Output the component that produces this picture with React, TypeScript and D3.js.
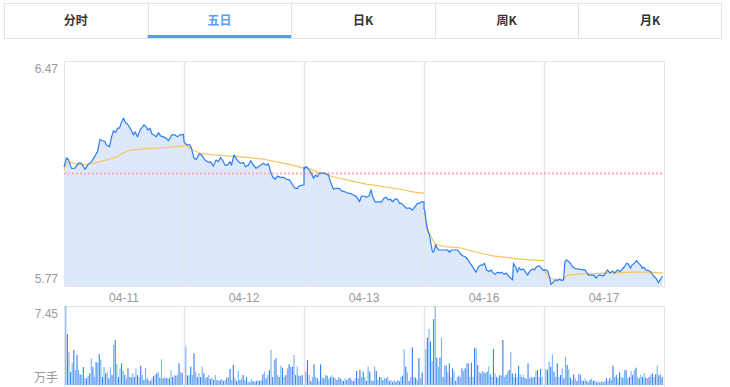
import React from 'react';
import * as d3 from 'd3';

const TABS = ['分时', '五日', '日K', '周K', '月K'];
const ACTIVE_TAB = 1;
const DAYS = ['04-11', '04-12', '04-13', '04-16', '04-17'];
const PRICE_TICKS = [6.47, 5.77];
const PRE_CLOSE = 6.12;
const VOL_MAX = 7.45;
const VOL_UNIT = '万手';
const MINUTES_PER_DAY = 240;

// [minute of day, price]
const price0: [number, number][] = [[0,6.140],[2,6.152],[5,6.169],[9,6.162],[15,6.136],[22,6.137],[29,6.152],[35,6.152],[42,6.133],[49,6.150],[55,6.157],[62,6.175],[67,6.188],[72,6.226],[77,6.222],[82,6.219],[85,6.209],[91,6.203],[95,6.233],[99,6.253],[103,6.247],[107,6.261],[111,6.261],[114,6.276],[119,6.292],[123,6.278],[127,6.274],[132,6.261],[135,6.253],[139,6.240],[142,6.250],[147,6.234],[152,6.255],[155,6.261],[160,6.271],[164,6.266],[168,6.255],[172,6.261],[176,6.243],[180,6.240],[184,6.234],[189,6.247],[193,6.237],[199,6.234],[204,6.230],[209,6.222],[212,6.230],[215,6.240],[222,6.240],[227,6.234],[231,6.240],[235,6.240],[239,6.242]];
const price1: [number, number][] = [[0,6.219],[2,6.214],[7,6.209],[12,6.209],[15,6.198],[20,6.167],[25,6.164],[30,6.181],[35,6.178],[42,6.162],[49,6.154],[53,6.157],[59,6.143],[64,6.162],[69,6.157],[73,6.170],[77,6.162],[82,6.146],[87,6.146],[92,6.157],[95,6.146],[100,6.178],[104,6.167],[109,6.157],[113,6.152],[119,6.154],[123,6.141],[129,6.146],[133,6.160],[139,6.146],[144,6.136],[149,6.141],[153,6.146],[159,6.152],[164,6.146],[169,6.150],[173,6.126],[177,6.110],[182,6.102],[187,6.112],[192,6.108],[199,6.108],[205,6.102],[211,6.100],[215,6.090],[222,6.074],[227,6.074],[231,6.082],[237,6.084],[240,6.085]];
const price2: [number, number][] = [[0,6.140],[2,6.136],[5,6.141],[9,6.133],[13,6.126],[19,6.105],[23,6.115],[27,6.110],[31,6.121],[35,6.121],[42,6.121],[49,6.115],[53,6.094],[59,6.071],[64,6.074],[71,6.074],[75,6.066],[82,6.063],[89,6.058],[93,6.058],[99,6.053],[105,6.048],[111,6.032],[115,6.050],[120,6.050],[125,6.046],[130,6.050],[134,6.069],[137,6.050],[142,6.032],[149,6.032],[155,6.032],[160,6.043],[164,6.046],[169,6.038],[173,6.040],[177,6.032],[182,6.040],[187,6.040],[191,6.027],[195,6.027],[204,6.012],[212,6.012],[217,6.006],[222,6.017],[227,6.027],[231,6.027],[235,6.032],[240,6.032]];
const price3: [number, number][] = [[0,6.010],[2,6.001],[4,5.970],[7,5.944],[11,5.929],[13,5.908],[17,5.875],[20,5.877],[23,5.898],[27,5.887],[29,5.882],[35,5.882],[42,5.882],[47,5.882],[51,5.875],[55,5.882],[62,5.882],[67,5.882],[72,5.872],[77,5.864],[82,5.861],[87,5.854],[92,5.841],[97,5.830],[101,5.820],[104,5.813],[109,5.830],[113,5.835],[117,5.835],[121,5.841],[125,5.820],[130,5.815],[134,5.820],[137,5.813],[142,5.806],[147,5.813],[151,5.810],[155,5.813],[160,5.806],[165,5.810],[170,5.799],[174,5.794],[177,5.789],[179,5.841],[183,5.830],[187,5.813],[190,5.827],[194,5.820],[199,5.823],[203,5.813],[207,5.804],[212,5.817],[217,5.823],[221,5.820],[225,5.830],[230,5.833],[234,5.827],[237,5.820],[240,5.818]];
const price4: [number, number][] = [[0,5.820],[2,5.820],[7,5.818],[11,5.799],[14,5.775],[19,5.783],[23,5.789],[27,5.787],[31,5.791],[35,5.787],[39,5.789],[42,5.846],[45,5.851],[49,5.846],[53,5.841],[57,5.830],[62,5.825],[67,5.823],[72,5.822],[77,5.820],[82,5.820],[89,5.804],[95,5.804],[101,5.803],[104,5.794],[109,5.804],[113,5.804],[119,5.801],[123,5.811],[127,5.820],[132,5.810],[137,5.817],[141,5.810],[147,5.820],[152,5.815],[156,5.822],[161,5.830],[165,5.841],[169,5.838],[173,5.825],[176,5.835],[181,5.841],[185,5.849],[189,5.841],[193,5.835],[197,5.825],[200,5.828],[204,5.820],[209,5.818],[213,5.815],[219,5.801],[224,5.794],[229,5.780],[233,5.791],[237,5.801]];

const avg0: [number, number][] = [[0,6.130],[5,6.153],[10,6.156],[32,6.146],[58,6.151],[92,6.165],[108,6.174],[118,6.184],[132,6.193],[152,6.195],[166,6.197],[192,6.200],[206,6.201],[240,6.206]];
const avg1: [number, number][] = [[0,6.206],[2,6.209],[12,6.198],[32,6.183],[58,6.178],[92,6.174],[125,6.170],[158,6.165],[192,6.154],[218,6.146],[240,6.136]];
const avg2: [number, number][] = [[0,6.137],[2,6.141],[25,6.126],[58,6.110],[92,6.098],[125,6.087],[158,6.079],[192,6.071],[218,6.063],[240,6.058]];
const avg3: [number, number][] = [[0,6.000],[2,5.991],[9,5.939],[22,5.900],[45,5.892],[72,5.889],[105,5.875],[138,5.864],[178,5.856],[212,5.851],[240,5.849]];
const avg4: [number, number][] = [[0,5.820],[2,5.815],[8,5.799],[18,5.791],[38,5.791],[48,5.804],[72,5.807],[125,5.810],[178,5.813],[212,5.813],[238,5.810]];

// volume, 万手
const vol0 = [7.45,4.78,3.08,1.23,2.07,3.30,1.41,2.83,1.41,1.01,0.94,1.70,0.66,0.63,0.85,1.10,2.52,1.70,0.75,2.17,2.07,2.92,2.36,0.75,1.70,1.10,1.23,0.63,1.70,0.94,3.77,4.24,1.98,0.75,1.57,2.05,1.32,0.94,0.63,1.57,0.75,0.75,1.10,0.75,1.57,0.94,0.75,1.82,0.94,0.47,1.63,0.63,0.47,0.38,0.63,0.85,0.94,1.10,1.23,0.69,2.42,0.63,0.75,0.63,0.69,0.63,1.41,0.75,0.94,0.88,0.94,2.05,1.20,1.16];
const vol1 = [3.61,0.88,0.94,1.73,0.94,2.99,1.26,0.75,1.10,0.75,1.73,1.10,0.63,0.75,0.94,0.57,0.69,0.47,0.94,0.47,0.38,0.47,0.57,0.38,0.47,0.69,0.75,1.51,0.47,1.89,0.63,0.38,1.32,0.47,0.63,0.94,0.47,0.75,0.31,0.25,0.57,0.38,0.31,0.38,0.47,0.38,0.47,1.01,1.26,0.63,0.94,1.41,3.30,0.75,2.36,2.52,0.94,0.75,1.82,1.63,0.75,0.94,1.57,1.95,1.73,1.73,2.83,0.94,1.73,0.88,0.85,0.94];
const vol2 = [1.26,2.36,0.94,0.38,0.75,1.95,0.75,0.63,0.38,1.95,0.75,0.63,0.94,0.88,0.57,0.75,0.94,0.69,0.63,0.47,0.75,0.63,0.47,0.38,0.63,0.47,0.63,0.69,0.47,0.38,0.63,1.32,0.63,1.41,0.75,1.26,0.75,0.38,1.73,1.26,0.47,0.38,1.73,1.32,0.47,0.75,0.75,0.47,0.63,0.63,0.75,0.38,0.47,0.31,0.47,0.31,0.47,0.38,0.75,0.88,3.39,1.73,1.19,0.38,0.75,3.55,0.75,0.69,0.47,2.52,0.63,1.19];
const vol3 = [3.39,4.46,5.28,4.09,2.26,6.22,7.45,2.58,1.73,2.58,4.46,0.75,1.89,1.82,1.19,2.04,0.75,1.57,1.26,0.38,0.75,0.88,0.75,1.57,1.32,1.57,2.04,2.04,0.75,2.11,0.75,3.46,3.55,1.89,1.19,1.10,1.32,1.19,1.10,1.26,1.73,1.01,0.75,3.39,1.10,0.75,0.69,0.94,0.88,4.24,0.75,0.94,1.26,1.41,3.14,1.10,0.75,1.10,0.75,1.82,1.01,0.75,0.94,0.69,0.57,2.04,0.63,0.75,0.69,0.75,1.32,1.41,0.75,1.51,0.75];
const vol4 = [1.51,1.41,2.20,1.73,2.89,1.26,0.75,2.04,0.75,0.94,1.57,0.63,2.67,1.89,1.51,0.69,0.47,1.01,0.63,0.38,1.10,0.94,0.47,0.38,0.63,0.38,0.25,0.47,0.63,0.38,0.47,0.25,0.38,0.25,0.38,0.25,0.38,0.63,0.38,0.63,0.47,1.82,0.75,0.94,0.63,1.19,0.75,0.69,1.41,1.41,0.63,0.75,1.32,0.94,1.41,1.63,0.75,0.63,0.94,0.75,1.10,0.69,0.63,0.75,0.94,1.10,0.75,1.01,1.82,0.94,1.01,0.75];

const PRICES = [price0, price1, price2, price3, price4];
const AVGS = [avg0, avg1, avg2, avg3, avg4];
const VOLS = [vol0, vol1, vol2, vol3, vol4];

const W = 730;
const H = 387;
const PLOT_L = 64;
const PLOT_R = 664;
const MAIN_T = 61;
const MAIN_B = 286;
const VOL_T = 306;
const VOL_B = 385;

const FONT = "'Liberation Sans', Arial, 'Noto Sans CJK SC', sans-serif";
const CJK = "'Noto Sans CJK SC', 'Liberation Sans', sans-serif";
const GRID = '#dfe5ec';

export default function App() {
  const x = d3.scaleLinear().domain([0, MINUTES_PER_DAY * DAYS.length]).range([PLOT_L, PLOT_R]);
  const y = d3.scaleLinear().domain([PRICE_TICKS[1], PRICE_TICKS[0]]).range([MAIN_B, MAIN_T]);
  const yv = d3.scaleLinear().domain([0, VOL_MAX]).range([VOL_B, VOL_T]);

  const allPts = PRICES.flatMap((day, d) => day.map(([t, p]) => [d * MINUTES_PER_DAY + t, p] as [number, number]));
  const line = d3.line<[number, number]>().x(d => x(d[0])).y(d => y(d[1]));
  const area = d3.area<[number, number]>().x(d => x(d[0])).y0(MAIN_B).y1(d => y(d[1]));

  const dayX = (d: number) => x(d * MINUTES_PER_DAY);
  const dayW = x(MINUTES_PER_DAY) - x(0);

  const tabScale = d3.scaleBand<number>().domain(d3.range(TABS.length)).range([4, 722]);

  return (
    <svg width={W} height={H} style={{ position: 'absolute', left: 0, top: 0, background: '#fff' }}>
      {/* tabs */}
      <rect x={4.5} y={3.5} width={717} height={35} fill="#fff" stroke="#e3e3e3" />
      {TABS.map((t, i) => (
        <g key={t}>
          {i > 0 && <line x1={Math.round(tabScale(i)!) + 0.5} x2={Math.round(tabScale(i)!) + 0.5} y1={4} y2={38} stroke="#e3e3e3" />}
          <text x={tabScale(i)! + tabScale.bandwidth() / 2} y={25} textAnchor="middle" fontSize={12}
            fontWeight="bold" fontFamily={CJK} fill={i === ACTIVE_TAB ? '#5a9cf8' : '#333'}>{t}</text>
        </g>
      ))}
      <rect x={tabScale(ACTIVE_TAB)!} y={35} width={tabScale.bandwidth()} height={3} fill="#5a9cf8" />

      {/* main chart */}
      <path d={area(allPts)!} fill="#dde9fb" />
      <rect x={PLOT_L + 0.5} y={MAIN_T + 0.5} width={PLOT_R - PLOT_L} height={MAIN_B - MAIN_T} fill="none" stroke={GRID} />
      {DAYS.slice(1).map((_, i) => (
        <line key={i} x1={dayX(i + 1) + 0.5} x2={dayX(i + 1) + 0.5} y1={MAIN_T} y2={MAIN_B} stroke={GRID} strokeWidth={1.5} />
      ))}
      <line x1={PLOT_L} x2={PLOT_R} y1={y(PRE_CLOSE)} y2={y(PRE_CLOSE)} stroke="#f7b0b0" strokeWidth={2} strokeDasharray="2,2" />
      {AVGS.map((day, d) => (
        <path key={d} d={line(day.map(([t, p]) => [d * MINUTES_PER_DAY + t, p] as [number, number]))!}
          fill="none" stroke="#f6c35e" strokeWidth={1.2} />
      ))}
      <path d={line(allPts)!} fill="none" stroke="#2c7df0" strokeWidth={1.2} strokeLinejoin="round" />

      <text x={58} y={73} textAnchor="end" fontSize={12} fontFamily={FONT} fill="#999">{PRICE_TICKS[0].toFixed(2)}</text>
      <text x={58} y={283} textAnchor="end" fontSize={12} fontFamily={FONT} fill="#999">{PRICE_TICKS[1].toFixed(2)}</text>
      {DAYS.map((d, i) => (
        <text key={d} x={dayX(i) + dayW / 2} y={302} textAnchor="middle" fontSize={12} fontFamily={FONT} fill="#999">{d}</text>
      ))}

      {/* volume chart */}
      <line x1={PLOT_L} x2={PLOT_R} y1={VOL_T + 0.5} y2={VOL_T + 0.5} stroke={GRID} />
      <line x1={PLOT_L + 0.5} x2={PLOT_L + 0.5} y1={VOL_T} y2={H} stroke={GRID} />
      <line x1={PLOT_R + 0.5} x2={PLOT_R + 0.5} y1={VOL_T} y2={H} stroke={GRID} />
      {DAYS.slice(1).map((_, i) => (
        <line key={i} x1={dayX(i + 1) + 0.5} x2={dayX(i + 1) + 0.5} y1={VOL_T} y2={H} stroke={GRID} strokeWidth={1.5} />
      ))}
      {VOLS.map((day, d) => {
        const bx = d3.scaleBand<number>().domain(d3.range(day.length)).range([dayX(d) + 1, dayX(d + 1) - 1]);
        return day.map((v, i) => (
          <rect key={`${d}-${i}`} x={bx(i)! + bx.bandwidth() * 0.15} width={Math.max(1, bx.bandwidth() * 0.7)}
            y={yv(v)} height={VOL_B - yv(v)} fill={i % 2 === 0 ? '#7db3f7' : '#3583f1'} />
        ));
      })}
      <text x={58} y={318} textAnchor="end" fontSize={12} fontFamily={FONT} fill="#999">{VOL_MAX.toFixed(2)}</text>
      <text x={58} y={382} textAnchor="end" fontSize={12} fontFamily={CJK} fill="#999">{VOL_UNIT}</text>
    </svg>
  );
}
